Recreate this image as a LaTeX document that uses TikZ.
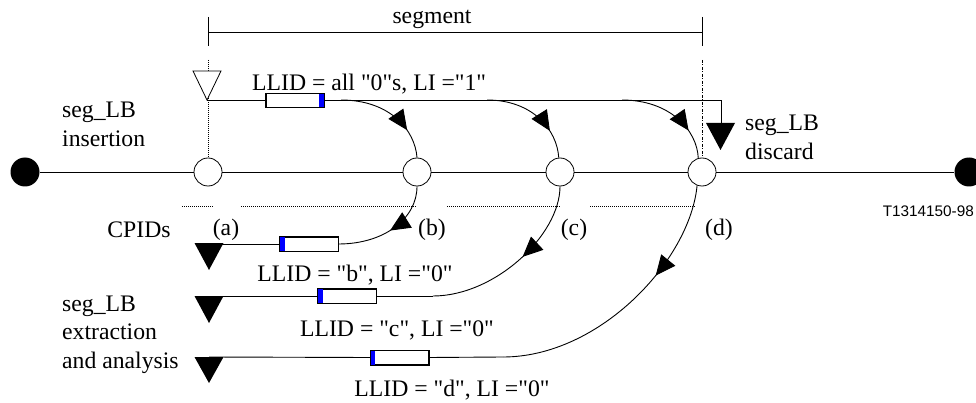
\documentclass[tikz,border=0pt]{standalone}
\usepackage{fontspec}
\setmainfont{Liberation Serif}[Ligatures=TeXOff]
\newfontfamily\arialfont{Liberation Sans}
\usetikzlibrary{arrows.meta,decorations.markings}
\begin{document}
\begin{tikzpicture}[x=1pt,y=-1pt,
  lbl/.style={font=\fontsize{23.7}{28.5}\selectfont, inner sep=0pt, align=left},
  opencirc/.style={circle, draw, fill=white, minimum size=28pt, inner sep=0pt, line width=0.8pt},
  solidcirc/.style={circle, fill=black, minimum size=29pt, inner sep=0pt},
  pkt/.style={draw, fill=white, minimum width=58pt, minimum height=14pt, inner sep=0pt, line width=0.7pt},
  wire/.style={line width=0.9pt},
  flow/.style={line width=0.9pt, decoration={markings, mark=at position #1 with {\arrow{Triangle[length=20pt,width=18pt]}}}, postaction=decorate},
  dotl/.style={line width=0.6pt, dash pattern=on 1pt off 1pt},
  dashdotl/.style={line width=0.6pt, dash pattern=on 3pt off 1.5pt on 1pt off 1.5pt},
]
\useasboundingbox (0,0) rectangle (976,403);

% main nodes
\node[solidcirc] (L) at (25,172) {};
\node[solidcirc] (R) at (969,172) {};
\node[opencirc] (A) at (208,172) {};
\node[opencirc] (B) at (417,172) {};
\node[opencirc] (C) at (560,172) {};
\node[opencirc] (D) at (702,172) {};
\draw[wire] (L) -- (A);
\draw[wire] (A) -- (B);
\draw[wire] (B) -- (C);
\draw[wire] (C) -- (D);
\draw[wire] (D) -- (R);

% segment dimension
\coordinate (sl) at (208,32);
\coordinate (sr) at (702,32);
\coordinate (slt) at (208,17);
\coordinate (slb) at (208,46);
\coordinate (srt) at (702,17);
\coordinate (srb) at (702,46);
\draw[line width=0.8pt] (sl) -- (sr);
\draw[line width=0.8pt] (slt) -- (slb);
\draw[line width=0.8pt] (srt) -- (srb);
\node[lbl] (seg) at (432,19) {segment};

% vertical guides
\coordinate (va) at (208,60);
\coordinate (vd) at (702,60);
\draw[dotl] (va) -- (A.north);
\draw[dashdotl] (vd) -- (D.north);

% horizontal dotted guides
\coordinate (h1a) at (182,206); \coordinate (h1b) at (213,206);
\coordinate (h2a) at (241,206); \coordinate (h2b) at (417,206);
\coordinate (h3a) at (447,206); \coordinate (h3b) at (561,206);
\coordinate (h4a) at (590,206); \coordinate (h4b) at (696,206);
\draw[dotl] (h1a) -- (h1b);
\draw[dotl] (h2a) -- (h2b);
\draw[dotl] (h3a) -- (h3b);
\draw[dotl] (h4a) -- (h4b);

% top line with insertion and discard
\coordinate (insTip) at (207,100);
\coordinate (corner) at (721,100);
\coordinate (disTop) at (721,123);
\coordinate (sb) at (341,100);
\coordinate (sc) at (487,100);
\coordinate (sd) at (622,100);
\draw[wire] (insTip) -- (corner) -- (disTop);
\node[pkt] (P0) at (295,100.5) {};
\fill[blue] (P0.north east) rectangle ([xshift=-5pt]P0.south east);
\draw[line width=0.7pt] (P0.north west) rectangle (P0.south east);
\draw[line width=0.8pt, fill=white] (193,71) -- (221,71) -- (insTip) -- cycle;
\fill (706,123) -- (735,123) -- (720.5,150) -- cycle;
\node[lbl, anchor=west] (lab0) at (252,84) {LLID = all "0"s, LI ="1"};

\draw[flow=0.72] (sb) .. controls (390,100) and (415,130) .. (B.north);
\draw[flow=0.72] (sc) .. controls (533,100) and (557,130) .. (C.95);
\draw[flow=0.72] (sd) .. controls (670,100) and (697,130) .. (D.105);

% lower extraction lines
\node[pkt] (P1) at (309,244) {};
\node[pkt] (P2) at (347,296) {};
\node[pkt] (P3) at (399.5,357.5) {};
\coordinate (t1) at (209,244);
\coordinate (t2) at (209,296);
\coordinate (t3) at (209,357);
\coordinate (c2) at (433,296);
\coordinate (c3) at (503,357);
\draw[wire] (t1) -- (P1.west);
\draw[wire] (t2) -- (P2.west);
\draw[wire] (P2.east) -- (c2);
\draw[wire] (t3) -- (P3.west);
\draw[wire] (P3.east) -- (c3);
\foreach \p in {P1,P2,P3}{
  \fill[blue] (\p.north west) rectangle ([xshift=5pt]\p.south west);
  \draw[line width=0.7pt] (\p.north west) rectangle (\p.south east);
}
\fill (194.5,243) -- (223.5,243) -- (209,270) -- cycle;
\fill (194.5,296) -- (223.5,296) -- (209,323) -- cycle;
\fill (194.5,357) -- (223.5,357) -- (209,383) -- cycle;

\draw[flow=0.5] (B.south) .. controls (417,218) and (385,244) .. (P1.east);
\draw[flow=0.45] (C.south) .. controls (560,235) and (495,296) .. (c2);
\draw[flow=0.36] (D.250) .. controls (690,260) and (600,357) .. (c3);

% labels
\node[lbl] (la) at (226,230) {(a)};
\node[lbl] (lb) at (432,230) {(b)};
\node[lbl] (lc) at (574,230) {(c)};
\node[lbl] (ld) at (719,230) {(d)};
\node[lbl] (cp) at (139,230) {CPIDs};
\node[lbl] (l1) at (355,275) {LLID = "b", LI ="0"};
\node[lbl] (l2) at (397,330) {LLID = "c", LI ="0"};
\node[lbl] (l3) at (452,390) {LLID = "d", LI ="0"};
\node[lbl, anchor=west] (ins) at (62,124.5) {seg\_LB\\insertion};
\node[lbl, anchor=west] (ext) at (62,334.5) {seg\_LB\\extraction\\and analysis};
\node[lbl, anchor=west] (dis) at (745,137.5) {seg\_LB\\discard};
\node[font=\arialfont\fontsize{15.3}{18}\selectfont, inner sep=0pt, anchor=east] (tag) at (974,211) {T1314150-98};
\end{tikzpicture}
\end{document}
